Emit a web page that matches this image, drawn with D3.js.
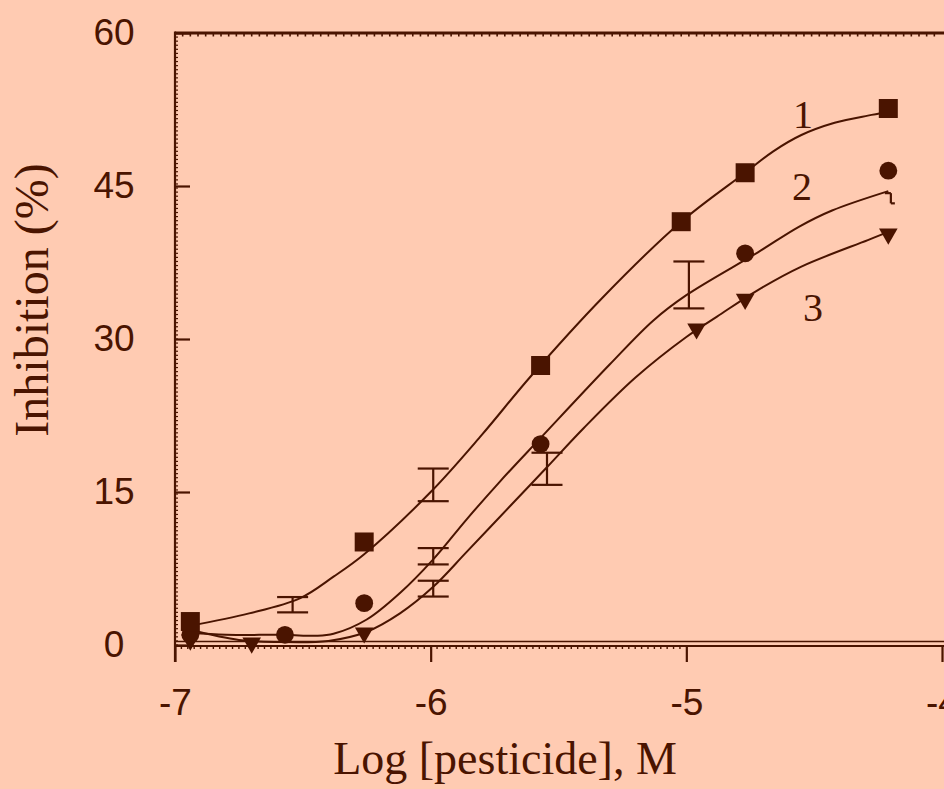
<!DOCTYPE html>
<html>
<head>
<meta charset="utf-8">
<script src="https://cdn.jsdelivr.net/npm/d3@7"></script>
<style>
  body { margin: 0; background: #ffcbb2; }
  svg { display: block; }
</style>
</head>
<body>
<div id="chart"></div>
<script>
// values
let xTicks = [-7, -6, -5, -4];
let yTicks = [0, 15, 30, 45, 60];

// measured points: 1 = squares, 2 = circles, 3 = triangles
let sqX = [-6.94, -6.26, -5.57, -5.02, -4.77, -4.21];
let sqY = [2.3, 10.1, 27.4, 41.5, 46.3, 52.6];
let ciX = [-6.94, -6.57, -6.26, -5.57, -4.77, -4.21];
let ciY = [1.0, 1.0, 4.1, 19.7, 38.4, 46.5];
let trX = [-6.94, -6.70, -6.26, -4.96, -4.77, -4.21];
let trY = [0.5, 0.2, 1.2, 31.0, 33.9, 40.3];

// fitted curves
let fit1X = [-6.94, -6.71, -6.51, -6.38, -6.26, -6.0, -5.8, -5.61, -5.33, -5.02, -4.77, -4.66, -4.55, -4.42, -4.29, -4.22];
let fit1Y = [1.9, 3.1, 4.6, 6.7, 8.9, 15.0, 20.6, 26.3, 34.0, 41.5, 46.3, 48.4, 50.0, 51.2, 51.9, 52.2];
let fit2X = [-6.94, -6.8, -6.57, -6.45, -6.38, -6.25, -6.12, -5.99, -5.86, -5.73, -5.57, -5.3, -5.13, -5.0, -4.72, -4.56, -4.43, -4.21];
let fit2Y = [1.2, 1.0, 1.0, 0.9, 1.1, 2.5, 5.1, 8.4, 12.3, 16.0, 20.3, 27.5, 31.8, 34.3, 38.5, 41.0, 42.6, 44.5];
let fit3X = [-6.94, -6.75, -6.6, -6.4, -6.25, -6.12, -5.99, -5.86, -5.69, -5.55, -5.4, -5.2, -5.0, -4.88, -4.72, -4.55, -4.29, -4.21];
let fit3Y = [1.5, 0.5, 0.3, 0.4, 1.3, 3.1, 5.7, 9.1, 13.6, 17.3, 21.3, 26.2, 30.2, 32.2, 34.8, 37.1, 39.7, 40.5];

// error bars
let errX = [-6.54, -5.99, -5.99, -5.99, -5.545, -4.99, -4.20];
let errLo = [3.2, 14.1, 7.9, 4.75, 15.7, 33.0, 43.3];
let errHi = [4.7, 17.3, 9.5, 6.3, 18.85, 37.6, 44.3];

// curve labels
let labelText = ['1', '2', '3'];
let labelX = [-4.544, -4.548, -4.505];
let labelY = [50.7, 43.6, 31.8];

let width = 944;
let height = 789;
let ink = '#4a1400';

let x = d3.scaleLinear().domain([-7, -4]).range([175, 942]);
let y = d3.scaleLinear().domain([0, 60]).range([645, 33]);

let svg = d3.select('#chart')
    .append('svg')
    .attr('width', width)
    .attr('height', height)
    .style('background', '#ffcbb2');

// minor ticks (dotted look along the frame)
let minorX = d3.range(-7, -4.001, 0.03);
svg.append('g')
    .selectAll('line')
    .data(minorX)
    .enter()
    .append('line')
    .attr('x1', d => x(d)).attr('x2', d => x(d))
    .attr('y1', y(60)).attr('y2', y(60) + 3.5)
    .attr('stroke', ink).attr('stroke-width', 1.6);

let minorXb = d3.range(-7, -5.0, 0.025);
svg.append('g')
    .selectAll('line')
    .data(minorXb)
    .enter()
    .append('line')
    .attr('x1', d => x(d)).attr('x2', d => x(d))
    .attr('y1', y(0)).attr('y2', y(0) + 4)
    .attr('stroke', ink).attr('stroke-width', 1.4);

let minorY = d3.range(0, 60, 0.4);
svg.append('g')
    .selectAll('line')
    .data(minorY)
    .enter()
    .append('line')
    .attr('x1', x(-7)).attr('x2', x(-7) + 3)
    .attr('y1', d => y(d)).attr('y2', d => y(d))
    .attr('stroke', ink).attr('stroke-width', 1.2);

// axes
let yAxis = g => g
    .attr('transform', `translate(${x(-7)},0)`)
    .call(d3.axisLeft(y).tickValues(yTicks).tickSizeInner(-15).tickSizeOuter(0).tickPadding(61))
    .call(g => g.select('.domain').remove())
    .call(g => g.selectAll('.tick text').attr('text-anchor', 'middle'));

let xAxis = g => g
    .attr('transform', `translate(0,${y(0)})`)
    .call(d3.axisBottom(x).tickValues(xTicks).tickFormat(d => String(d))
        .tickSizeInner(17).tickSizeOuter(0).tickPadding(27))
    .call(g => g.select('.domain').remove());

svg.append('g').call(yAxis);
svg.append('g').call(xAxis);

svg.selectAll('.tick line')
    .attr('stroke', ink)
    .attr('stroke-width', 2.2);

svg.selectAll('.tick text')
    .attr('fill', ink)
    .style('font-family', '"Liberation Sans", Arial, sans-serif')
    .style('font-size', '37px');

// frame lines
svg.append('line')
    .attr('x1', x(-7)).attr('x2', width)
    .attr('y1', y(60)).attr('y2', y(60))
    .attr('stroke', ink).attr('stroke-width', 3);
svg.append('line')
    .attr('x1', x(-7)).attr('x2', x(-7))
    .attr('y1', y(60) - 1.5).attr('y2', y(0) + 17)
    .attr('stroke', ink).attr('stroke-width', 2.2);
svg.append('line')
    .attr('x1', x(-7)).attr('x2', width)
    .attr('y1', y(0) + 1).attr('y2', y(0) + 1)
    .attr('stroke', ink).attr('stroke-width', 2.2);
svg.append('line')
    .attr('x1', x(-7)).attr('x2', width)
    .attr('y1', y(0) - 3.5).attr('y2', y(0) - 3.5)
    .attr('stroke', ink).attr('stroke-width', 1.6);

// fitted curves
let line = d3.line()
    .x(d => x(d[0]))
    .y(d => y(d[1]))
    .curve(d3.curveCatmullRom.alpha(0.5));

let fits = [d3.zip(fit1X, fit1Y), d3.zip(fit2X, fit2Y), d3.zip(fit3X, fit3Y)];
svg.append('g')
    .selectAll('path')
    .data(fits)
    .enter()
    .append('path')
    .attr('d', line)
    .attr('fill', 'none')
    .attr('stroke', ink)
    .attr('stroke-width', 2);

// error bars
let errs = d3.zip(errX, errLo, errHi);
let eb = svg.append('g')
    .selectAll('g')
    .data(errs)
    .enter()
    .append('g')
    .attr('stroke', ink)
    .attr('stroke-width', 2.2);
eb.append('line')
    .attr('x1', d => x(d[0])).attr('x2', d => x(d[0]))
    .attr('y1', d => y(d[1])).attr('y2', d => y(d[2]));
eb.append('line')
    .attr('x1', (d, i) => x(d[0]) - (i == 6 ? 0 : 15.5))
    .attr('x2', (d, i) => x(d[0]) + (i == 6 ? 4 : 15.5))
    .attr('y1', d => y(d[1])).attr('y2', d => y(d[1]));
eb.append('line')
    .attr('x1', (d, i) => x(d[0]) - (i == 6 ? 6 : 15.5))
    .attr('x2', (d, i) => x(d[0]) + (i == 6 ? 0 : 15.5))
    .attr('y1', d => y(d[2])).attr('y2', d => y(d[2]));

// markers
let drawMarkers = (xs, ys, type, size, rot) => {
    svg.append('g')
        .selectAll('path')
        .data(d3.zip(xs, ys))
        .enter()
        .append('path')
        .attr('d', d3.symbol().type(type).size(size))
        .attr('transform', d => `translate(${x(d[0])},${y(d[1])}) rotate(${rot})`)
        .attr('fill', ink);
};
drawMarkers(trX, trY, d3.symbolTriangle, 150, 180);
drawMarkers(ciX, ciY, d3.symbolCircle, 250, 0);
drawMarkers(sqX, sqY, d3.symbolSquare, 361, 0);

// curve labels
svg.append('g')
    .selectAll('text')
    .data(d3.zip(labelText, labelX, labelY))
    .enter()
    .append('text')
    .attr('x', d => x(d[1]))
    .attr('y', d => y(d[2]))
    .attr('text-anchor', 'middle')
    .attr('fill', ink)
    .style('font-family', '"Liberation Serif", "Times New Roman", serif')
    .style('font-size', '40px')
    .text(d => d[0]);

// axis titles
svg.append('text')
    .attr('x', 505)
    .attr('y', 774)
    .attr('text-anchor', 'middle')
    .attr('fill', ink)
    .style('font-family', '"Liberation Serif", "Times New Roman", serif')
    .style('font-size', '46px')
    .text('Log [pesticide], M');

svg.append('text')
    .attr('transform', 'translate(48,300) rotate(-90)')
    .attr('text-anchor', 'middle')
    .attr('fill', ink)
    .style('font-family', '"Liberation Serif", "Times New Roman", serif')
    .style('font-size', '48px')
    .text('Inhibition (%)');
</script>
</body>
</html>
